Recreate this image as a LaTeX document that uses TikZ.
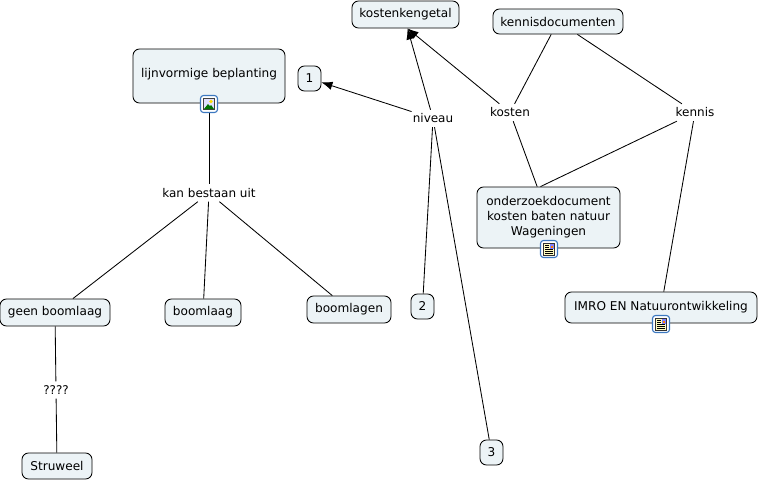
\documentclass[tikz,border=0pt]{standalone}
\usepackage{fontspec}
\setmainfont{DejaVu Sans}
\usetikzlibrary{arrows.meta}
\definecolor{boxfill}{HTML}{ECF3F6}
\definecolor{iconblue}{HTML}{3C78C0}
\tikzset{
  concept/.style={draw=black,fill=boxfill,rounded corners=6.5pt,line width=0.85pt,font=\fontsize{12.1}{15}\selectfont,align=center,inner sep=0pt,anchor=center},
  linker/.style={font=\fontsize{12}{15}\selectfont,inner sep=1pt,minimum height=17pt,anchor=center},
  link/.style={draw=black,line width=0.85pt},
  arrowlink/.style={link,-{Latex[length=11pt,width=8.5pt]}},
  iconframe/.style={draw=iconblue,fill=white,rounded corners=3pt,line width=1.1pt,minimum size=17pt,inner sep=0pt},
  pics/imageicon/.style={code={
    \node[iconframe] (-f) at (0,0) {};
    \fill[black!75] (-6,-6) rectangle (6,6);
    \fill[blue!12] (-5,-5) rectangle (5,5);
    \fill[yellow!80!orange] (2,-2.5) circle (1.8);
    \fill[green!45!black] (-5,5) -- (-1,0) -- (1,2) -- (2,1) -- (5,5) -- cycle;
  }},
  pics/docicon/.style={code={
    \node[iconframe] (-f) at (0,0) {};
    \fill[black!80] (-6,-6.5) rectangle (6,6.5);
    \fill[yellow!25] (-5,-5.5) rectangle (5,5.5);
    \fill[blue!50] (0.5,-5) rectangle (5,-0.5);
    \fill[orange] (2,-3) rectangle (3.5,-1.5);
    \foreach \yy in {-3.5,-1.5}{\draw[black,line width=0.8pt] (-4,\yy) -- (-0.5,\yy);}
    \foreach \yy in {0.5,2.5,4.3}{\draw[black,line width=0.8pt] (-4,\yy) -- (4,\yy);}
  }},
}
\begin{document}
\begin{tikzpicture}[x=1pt,y=-1pt]
\useasboundingbox (0,0) rectangle (759,480);
\fill[white] (0,0) rectangle (759,480);
% concepts
\node[concept,minimum width=152pt,minimum height=54pt] (lijn) at (209,76) {\raisebox{7pt}{lijnvormige beplanting}};
\node[concept,minimum width=23pt,minimum height=25pt] (one) at (309.5,78.5) {1};
\node[concept,minimum width=107pt,minimum height=27pt] (kk) at (405.5,14.5) {kostenkengetal};
\node[concept,minimum width=130pt,minimum height=25pt] (kd) at (558,21.5) {kennisdocumenten};
\node[concept,minimum width=143pt,minimum height=61pt] (ond) at (548.5,217.5) {\raisebox{5pt}{\parbox{143pt}{\centering onderzoekdocument\ \\kosten baten natuur\\Wageningen}}};
\node[concept,minimum width=192pt,minimum height=31pt] (imro) at (661,307.5) {\raisebox{3pt}{IMRO EN Natuurontwikkeling}};
\node[concept,minimum width=110pt,minimum height=27pt] (geen) at (55,312.5) {geen boomlaag};
\node[concept,minimum width=76pt,minimum height=27pt] (bl) at (203,312.5) {boomlaag};
\node[concept,minimum width=84pt,minimum height=27pt] (bls) at (349,309.5) {boomlagen};
\node[concept,minimum width=23pt,minimum height=25pt] (two) at (422.5,306.5) {2};
\node[concept,minimum width=23pt,minimum height=25pt] (three) at (491.5,452.5) {3};
\node[concept,minimum width=70pt,minimum height=26pt] (st) at (57,466) {Struweel};
% linking phrases
\node[linker] (niv) at (433,118.5) {niveau};
\node[linker] (kos) at (510,112.5) {kosten};
\node[linker] (ken) at (695,112.5) {kennis};
\node[linker] (kan) at (209,193) {kan bestaan uit};
\node[linker] (q) at (56,390) {????};
% connectors
\draw[arrowlink] (niv) -- (one);
\draw[arrowlink] (niv) -- ([xshift=2pt]kk.south);
\draw[arrowlink] (kos) -- ([xshift=2pt]kk.south);
\draw[link] (kd) -- (kos);
\draw[link] (kd) -- (ken);
\draw[link] (kos) -- (ond);
\draw[link] (ken) -- ([xshift=-8pt]ond.north);
\draw[link] (ken) -- (imro);
\draw[link] (niv) -- (two);
\draw[link] (niv) -- (three);
\draw[link] (lijn) -- (kan);
\draw[link] (kan) -- (geen);
\draw[link] (kan) -- (bl);
\draw[link] (kan) -- (bls);
\draw[link] (geen) -- (q);
\draw[link] (q) -- (st);
% icons
\pic (i1) at (209,104) {imageicon};
\pic (i2) at (549,249) {docicon};
\pic (i3) at (661,324) {docicon};
\end{tikzpicture}
\end{document}
